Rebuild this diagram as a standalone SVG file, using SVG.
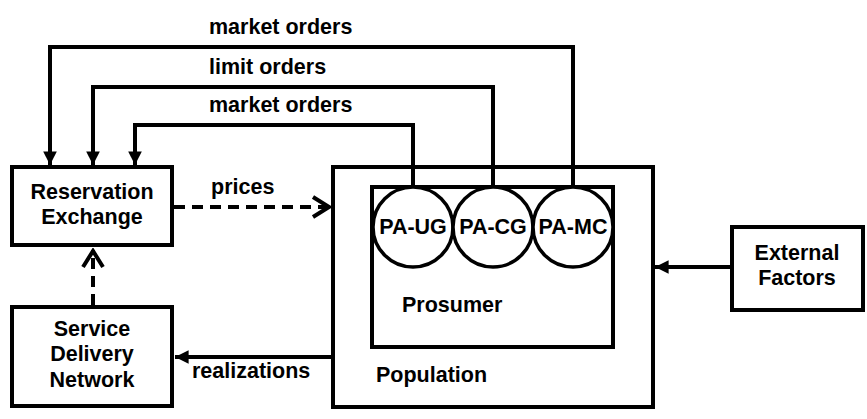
<svg xmlns="http://www.w3.org/2000/svg" width="867" height="419" viewBox="0 0 867 419">
<defs>
<marker id="tri" viewBox="0 0 10 10" refX="10" refY="5" markerWidth="5.5" markerHeight="3.4" markerUnits="strokeWidth" orient="auto">
<path d="M0,0 L10,5 L0,10 Z" fill="#000"/>
</marker>
<marker id="open" viewBox="0 0 22 24" refX="20" refY="12" markerWidth="22" markerHeight="24" markerUnits="userSpaceOnUse" orient="auto">
<path d="M3,2 L19,12 L3,22" fill="none" stroke="#000" stroke-width="4"/>
</marker>
<style>
.box{fill:#fff;stroke:#000;stroke-width:4}
.circ{fill:#fff;stroke:#000;stroke-width:3.5}
.t{font-family:"Liberation Sans",Arial,sans-serif;font-weight:bold;font-size:21.5px;fill:#000}
.c{text-anchor:middle}
.ln{fill:none;stroke:#000;stroke-width:4}
.dash{stroke-dasharray:11,7}
</style>
</defs>
<rect width="867" height="419" fill="#fff"/>
<g id="population">
<rect class="box" x="333" y="167" width="320" height="240"/>
<text class="t" x="376" y="382">Population</text>
</g>
<g id="prosumer">
<rect class="box" x="372" y="187" width="241" height="160"/>
<text class="t" x="402" y="312">Prosumer</text>
</g>
<g id="pa-ug">
<circle class="circ" cx="413" cy="227" r="40"/>
<text class="t c" x="413" y="234">PA-UG</text>
</g>
<g id="pa-cg">
<circle class="circ" cx="493" cy="227" r="40"/>
<text class="t c" x="493" y="234">PA-CG</text>
</g>
<g id="pa-mc">
<circle class="circ" cx="573" cy="227" r="40"/>
<text class="t c" x="573" y="234">PA-MC</text>
</g>
<g id="reservation-exchange">
<rect class="box" x="12" y="167" width="160" height="78"/>
<text class="t c" x="92" y="199">Reservation</text>
<text class="t c" x="92" y="224">Exchange</text>
</g>
<g id="service-delivery-network">
<rect class="box" x="12" y="307" width="160" height="99"/>
<text class="t c" x="92" y="336">Service</text>
<text class="t c" x="92" y="361">Delivery</text>
<text class="t c" x="92" y="387">Network</text>
</g>
<g id="external-factors">
<rect class="box" x="732" y="227" width="131" height="83"/>
<text class="t c" x="797" y="260">External</text>
<text class="t c" x="797" y="285">Factors</text>
</g>
<g id="connectors">
<path class="ln" d="M573,187 V47 H50 V165" marker-end="url(#tri)"/>
<path class="ln" d="M493,187 V87 H93 V165" marker-end="url(#tri)"/>
<path class="ln" d="M413,187 V125 H135 V165" marker-end="url(#tri)"/>
<path class="ln dash" d="M174,207 H330" marker-end="url(#open)"/>
<path class="ln dash" d="M93,305 V250" marker-end="url(#open)"/>
<path class="ln" d="M331,357 H175" marker-end="url(#tri)"/>
<path class="ln" d="M730,267 H655" marker-end="url(#tri)"/>
<text class="t" x="209" y="34">market orders</text>
<text class="t" x="209" y="74">limit orders</text>
<text class="t" x="209" y="112">market orders</text>
<text class="t" x="211" y="194">prices</text>
<text class="t" x="192" y="378">realizations</text>
</g>
</svg>
